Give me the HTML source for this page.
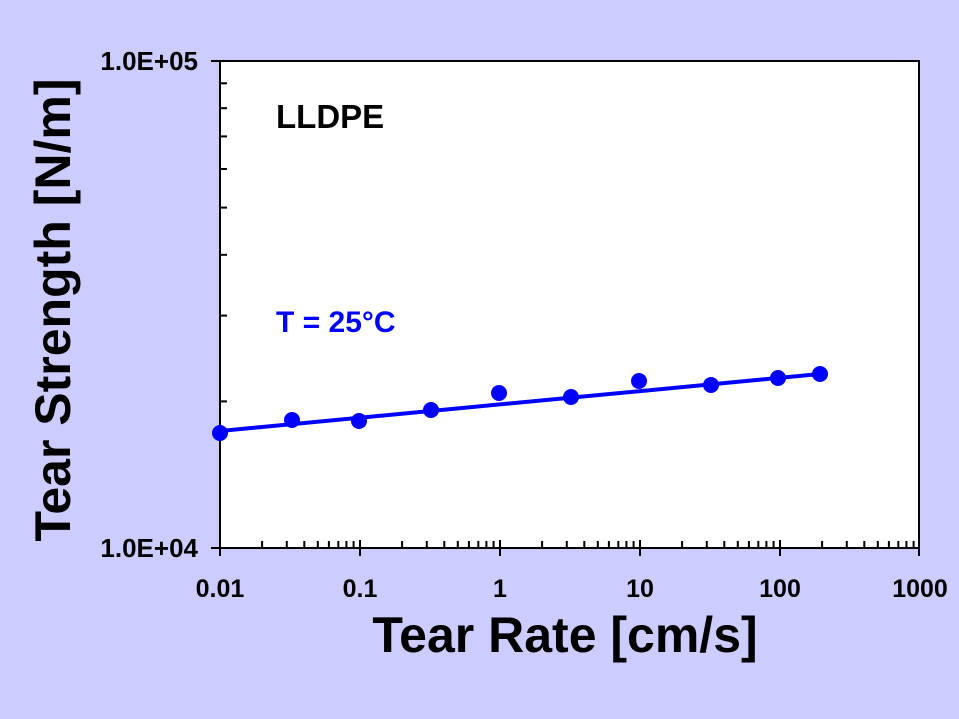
<!DOCTYPE html>
<html><head><meta charset="utf-8"><style>
html,body{margin:0;padding:0;background:#ccccff;}
svg{display:block;}
text{font-family:"Liberation Sans",Arial,sans-serif;font-weight:bold;}
</style></head><body>
<svg width="959" height="719" viewBox="0 0 959 719" xmlns="http://www.w3.org/2000/svg">
<rect x="0" y="0" width="959" height="719" fill="#ccccff"/>
<rect x="220" y="61" width="699" height="487" fill="#fff" stroke="#000" stroke-width="2"/>
<g stroke="#000" stroke-width="2">
<line x1="211" y1="61" x2="220" y2="61"/>
<line x1="211" y1="548" x2="220" y2="548"/>
<!-- y minor -->
<line x1="220" y1="401.4" x2="227" y2="401.4"/>
<line x1="220" y1="315.6" x2="227" y2="315.6"/>
<line x1="220" y1="254.8" x2="227" y2="254.8"/>
<line x1="220" y1="207.6" x2="227" y2="207.6"/>
<line x1="220" y1="169.0" x2="227" y2="169.0"/>
<line x1="220" y1="136.4" x2="227" y2="136.4"/>
<line x1="220" y1="108.2" x2="227" y2="108.2"/>
<line x1="220" y1="83.3" x2="227" y2="83.3"/>
</g>
<g id="xt" stroke="#000" stroke-width="2"></g>
<g font-size="25" fill="#000" text-anchor="middle">
<text x="220" y="597">0.01</text>
<text x="360" y="597">0.1</text>
<text x="500" y="597">1</text>
<text x="640" y="597">10</text>
<text x="780" y="597">100</text>
<text x="920" y="597">1000</text>
</g>
<g font-size="26" fill="#000" text-anchor="end">
<text x="198" y="70">1.0E+05</text>
<text x="198" y="557">1.0E+04</text>
</g>
<text x="565" y="652" font-size="50" text-anchor="middle" fill="#000">Tear Rate [cm/s]</text>
<text transform="translate(70,310) rotate(-90)" font-size="50" text-anchor="middle" fill="#000">Tear Strength [N/m]</text>
<text x="276" y="128" font-size="33" fill="#000">LLDPE</text>
<text x="276" y="332" font-size="30" fill="#0000ff">T = 25°C</text>
<line x1="220" y1="431" x2="820" y2="374" stroke="#0000ff" stroke-width="4"/>
<g fill="#0000ff">
<circle cx="220" cy="433" r="8"/>
<circle cx="292" cy="420" r="8"/>
<circle cx="359" cy="421" r="8"/>
<circle cx="431" cy="410" r="8"/>
<circle cx="499" cy="393" r="8"/>
<circle cx="571" cy="397" r="8"/>
<circle cx="639" cy="381" r="8"/>
<circle cx="711" cy="385" r="8"/>
<circle cx="778" cy="378" r="8"/>
<circle cx="820" cy="374" r="8"/>
</g>
<g stroke="#000" stroke-width="2">
<line x1="220" y1="540" x2="220" y2="556"/>
<line x1="360" y1="540" x2="360" y2="556"/>
<line x1="500" y1="540" x2="500" y2="556"/>
<line x1="640" y1="540" x2="640" y2="556"/>
<line x1="780" y1="540" x2="780" y2="556"/>
<line x1="919" y1="540" x2="919" y2="556"/>
<path d="M262.1 548v-7M286.8 548v-7M304.3 548v-7M317.8 548v-7M328.9 548v-7M338.3 548v-7M346.4 548v-7M353.6 548v-7
M402.1 548v-7M426.8 548v-7M444.3 548v-7M457.8 548v-7M468.9 548v-7M478.3 548v-7M486.4 548v-7M493.6 548v-7
M542.1 548v-7M566.8 548v-7M584.3 548v-7M597.8 548v-7M608.9 548v-7M618.3 548v-7M626.4 548v-7M633.6 548v-7
M682.1 548v-7M706.8 548v-7M724.3 548v-7M737.8 548v-7M748.9 548v-7M758.3 548v-7M766.4 548v-7M773.6 548v-7
M822.1 548v-7M846.8 548v-7M864.3 548v-7M877.8 548v-7M888.9 548v-7M898.3 548v-7M906.4 548v-7M913.6 548v-7"/>
</g>
</svg>
</body></html>
